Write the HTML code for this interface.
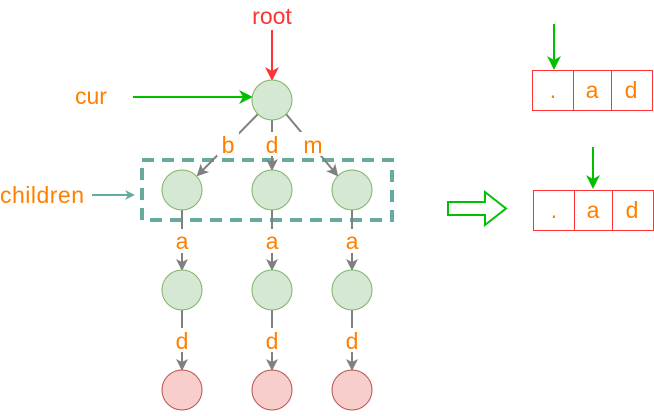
<!DOCTYPE html>
<html><head><meta charset="utf-8"><style>body{margin:0;background:#fff}</style></head><body>
<svg width="654" height="411" viewBox="0 0 654 411" xmlns="http://www.w3.org/2000/svg" font-family="Liberation Sans, sans-serif">
<defs>
<marker id="g" markerWidth="12" markerHeight="12" refX="10" refY="6" orient="auto" markerUnits="userSpaceOnUse"><path d="M0,0 L12,6 L0,12 L3,6z" fill="#808080"/></marker>
<marker id="gr" markerWidth="14" markerHeight="14" refX="12" refY="7" orient="auto" markerUnits="userSpaceOnUse"><path d="M0,0 L14,7 L0,14 L4,7z" fill="#00c000"/></marker>
<marker id="r" markerWidth="14" markerHeight="14" refX="12" refY="7" orient="auto" markerUnits="userSpaceOnUse"><path d="M0,0 L14,7 L0,14 L4,7z" fill="#ff3333"/></marker>
<marker id="t" markerWidth="10" markerHeight="10" refX="8" refY="5" orient="auto" markerUnits="userSpaceOnUse"><path d="M0,0 L10,5 L0,10 L3,5z" fill="#67ab9f"/></marker>
</defs>
<text x="272" y="24" font-size="23" fill="#ff3333" text-anchor="middle">root</text>
<line x1="272" y1="30" x2="272" y2="79" stroke="#ff3333" stroke-width="2" marker-end="url(#r)"/>
<text x="75" y="104" font-size="23" fill="#ff8000">cur</text>
<line x1="133" y1="97" x2="251" y2="97" stroke="#00c000" stroke-width="2" marker-end="url(#gr)"/>
<text x="0" y="203" font-size="23" fill="#ff8000" textLength="84">children</text>
<line x1="92" y1="195" x2="133" y2="195" stroke="#67ab9f" stroke-width="2" marker-end="url(#t)"/>
<rect x="142" y="160" width="250" height="60" fill="none" stroke="#67ab9f" stroke-width="4" stroke-dasharray="12,8"/>
<g stroke="#808080" stroke-width="2" fill="none">
<line x1="258" y1="114" x2="198" y2="175" marker-end="url(#g)"/>
<line x1="272" y1="120" x2="272" y2="169" marker-end="url(#g)"/>
<line x1="286" y1="114" x2="337" y2="175" marker-end="url(#g)"/>
<line x1="182" y1="210" x2="182" y2="269" marker-end="url(#g)"/>
<line x1="272" y1="210" x2="272" y2="269" marker-end="url(#g)"/>
<line x1="352" y1="210" x2="352" y2="269" marker-end="url(#g)"/>
<line x1="182" y1="310" x2="182" y2="369" marker-end="url(#g)"/>
<line x1="272" y1="310" x2="272" y2="369" marker-end="url(#g)"/>
<line x1="352" y1="310" x2="352" y2="369" marker-end="url(#g)"/>
</g>
<g font-size="23" fill="#ff8000" text-anchor="middle">
<rect x="217" y="132" width="22" height="24" fill="#fff"/><text x="228" y="153">b</text>
<rect x="262" y="132" width="20" height="24" fill="#fff"/><text x="272" y="153">d</text>
<rect x="298" y="132" width="30" height="24" fill="#fff"/><text x="313" y="153">m</text>
<rect x="171" y="229" width="22" height="24" fill="#fff"/><text x="182" y="249">a</text>
<rect x="261" y="229" width="22" height="24" fill="#fff"/><text x="272" y="249">a</text>
<rect x="341" y="229" width="22" height="24" fill="#fff"/><text x="352" y="249">a</text>
<rect x="171" y="328" width="22" height="24" fill="#fff"/><text x="182" y="349">d</text>
<rect x="261" y="328" width="22" height="24" fill="#fff"/><text x="272" y="349">d</text>
<rect x="341" y="328" width="22" height="24" fill="#fff"/><text x="352" y="349">d</text>
</g>
<g fill="#d5e8d4" stroke="#82b366" stroke-width="1">
<circle cx="272" cy="100" r="20"/>
<circle cx="182" cy="190" r="20"/><circle cx="272" cy="190" r="20"/><circle cx="352" cy="190" r="20"/>
<circle cx="182" cy="290" r="20"/><circle cx="272" cy="290" r="20"/><circle cx="352" cy="290" r="20"/>
</g>
<g fill="#f8cecc" stroke="#b85450" stroke-width="1">
<circle cx="182" cy="390" r="20"/><circle cx="272" cy="390" r="20"/><circle cx="352" cy="390" r="20"/>
</g>
<path d="M448,202 L485,202 L485,192 L506,208.5 L485,225 L485,215 L448,215z" fill="none" stroke="#00c000" stroke-width="2"/>
<g fill="none" stroke="#ff3333" stroke-width="1">
<rect x="532.5" y="70.5" width="120" height="40"/><line x1="573.5" y1="70" x2="573.5" y2="110"/><line x1="611.5" y1="70" x2="611.5" y2="110"/>
<rect x="533.5" y="190.5" width="120" height="40"/><line x1="574.5" y1="190" x2="574.5" y2="230"/><line x1="612.5" y1="190" x2="612.5" y2="230"/>
</g>
<g font-size="23" fill="#ff8000" text-anchor="middle">
<text x="553" y="98">.</text><text x="592" y="98">a</text><text x="631" y="98">d</text>
<text x="554" y="218">.</text><text x="593" y="218">a</text><text x="632" y="218">d</text>
</g>
<line x1="554" y1="24" x2="554" y2="68" stroke="#00c000" stroke-width="2" marker-end="url(#gr)"/>
<line x1="593" y1="147" x2="593" y2="187" stroke="#00c000" stroke-width="2" marker-end="url(#gr)"/>
</svg>
</body></html>
